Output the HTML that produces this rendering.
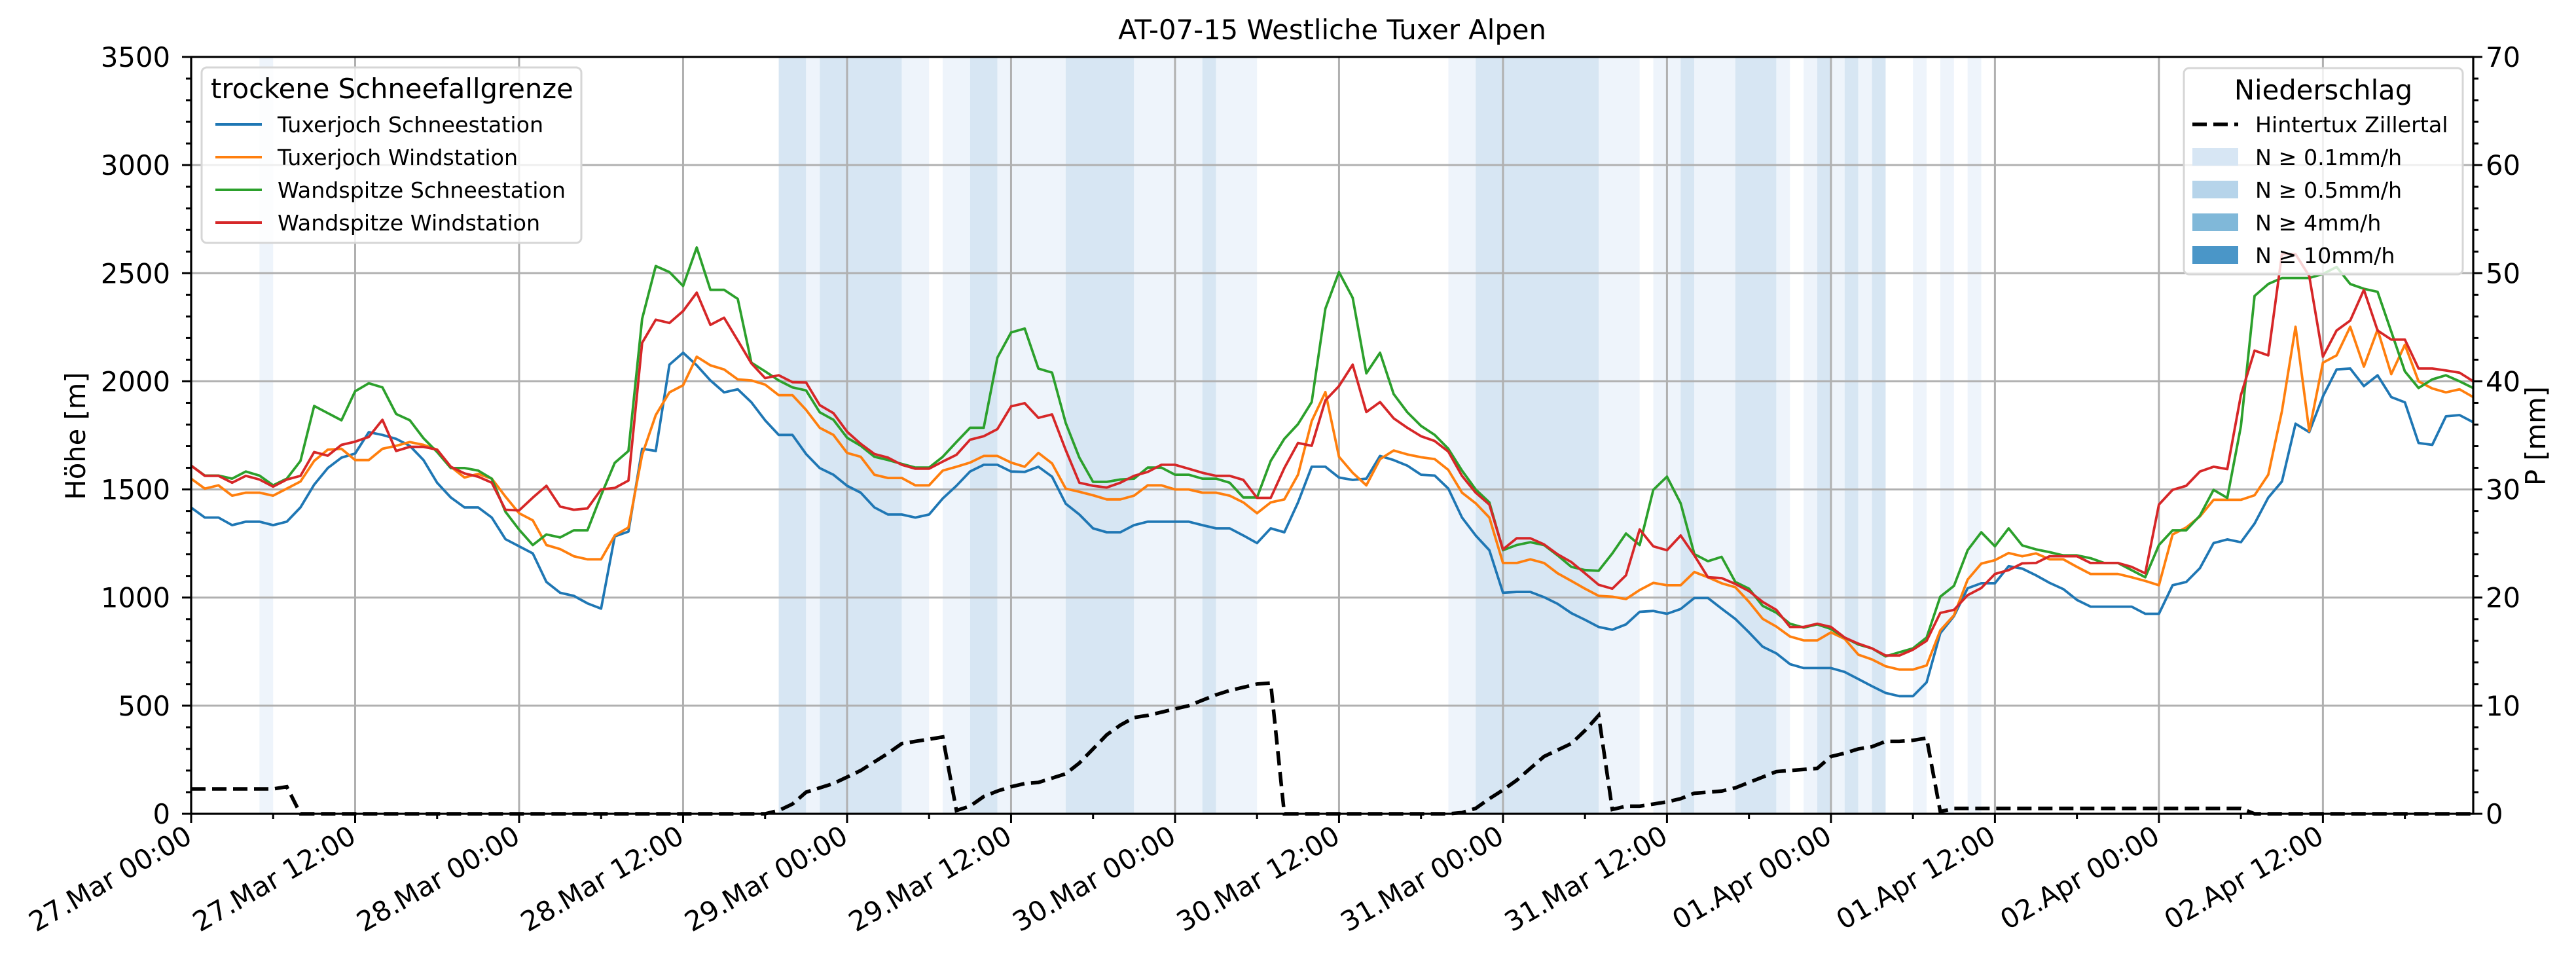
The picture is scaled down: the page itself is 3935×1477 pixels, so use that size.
<!DOCTYPE html>
<html><head><meta charset="utf-8"><style>
html,body{margin:0;padding:0;background:#fff;}
svg{display:block;font-family:"DejaVu Sans","Liberation Sans",sans-serif;}
</style></head><body>
<svg id="chart" width="3935" height="1477" viewBox="0 0 3935 1477" xmlns="http://www.w3.org/2000/svg">
<rect x="0" y="0" width="3935" height="1477" fill="#fff"/>
<g id="bands"></g><g id="grid"></g><g id="series"></g><g id="axes"></g><g id="legends"></g>
</svg>
<script>
const startLabels = ["27.Mar 00:00","27.Mar 12:00","28.Mar 00:00","28.Mar 12:00","29.Mar 00:00","29.Mar 12:00","30.Mar 00:00","30.Mar 12:00","31.Mar 00:00","31.Mar 12:00","01.Apr 00:00","01.Apr 12:00","02.Apr 00:00","02.Apr 12:00"];
const hoursCount = 168;
const yTicksLeft = [0,500,1000,1500,2000,2500,3000,3500];
const yTicksRight = [0,10,20,30,40,50,60,70];
const tuxerSchnee = [1416,1370,1370,1335,1351,1351,1335,1351,1417,1522,1599,1647,1666,1765,1752,1734,1702,1636,1531,1463,1417,1417,1370,1270,1237,1204,1072,1022,1008,973,949,1283,1305,1688,1678,2077,2132,2074,2004,1949,1963,1903,1820,1752,
1752,1664,1599,1568,1517,1485,1417,1384,1384,1370,1384,1458,1517,1583,1614,1614,1583,1581,1605,1559,1434,1384,1320,1302,1302,1335,1351,1351,1351,1351,1335,1320,1320,1287,1252,1320,1302,1440,1605,1605,1555,1544,
1550,1655,1636,1610,1568,1564,1504,1370,1287,1219,1022,1026,1026,1002,971,928,897,864,851,876,934,938,925,947,998,998,949,901,839,773,742,692,674,674,674,656,623,590,559,544,544,608,
835,914,1043,1066,1066,1145,1134,1103,1068,1039,989,958,958,958,958,925,925,1057,1072,1136,1252,1269,1256,1342,1462,1537,1804,1765,1930,2055,2059,1978,2028,1927,1903,1715,1706,1838,1844,1811];
const tuxerWind = [1550,1504,1519,1471,1485,1485,1471,1504,1537,1632,1684,1688,1636,1636,1688,1702,1719,1706,1684,1605,1555,1572,1550,1467,1390,1357,1243,1224,1191,1177,1177,1287,1324,1660,1844,1949,1982,2114,2074,2055,2009,2004,1985,1936,
1936,1868,1785,1752,1669,1651,1568,1553,1553,1519,1519,1587,1605,1624,1655,1655,1624,1605,1669,1620,1504,1489,1473,1454,1454,1471,1519,1519,1500,1500,1485,1485,1471,1440,1390,1440,1454,1568,1816,1950,1651,1577,
1519,1640,1680,1662,1649,1640,1590,1485,1436,1370,1160,1160,1177,1160,1112,1077,1041,1008,1004,993,1035,1068,1057,1057,1118,1094,1066,1048,980,902,866,820,802,802,839,809,736,714,682,667,667,686,
848,918,1083,1157,1173,1206,1191,1204,1177,1177,1142,1109,1109,1109,1094,1077,1057,1292,1324,1375,1452,1452,1452,1473,1568,1862,2252,1770,2086,2120,2252,2068,2239,2033,2169,2000,1967,1949,1963,1927];
const wandSchnee = [1610,1564,1564,1550,1583,1564,1519,1550,1632,1886,1853,1820,1954,1991,1972,1849,1820,1737,1673,1599,1599,1587,1550,1397,1314,1243,1292,1278,1311,1311,1473,1623,1678,2289,2533,2505,2441,2619,2423,2423,2381,2086,2046,2004,
1972,1958,1857,1822,1739,1702,1651,1636,1618,1601,1601,1651,1719,1785,1785,2110,2226,2244,2059,2040,1807,1647,1535,1535,1546,1550,1601,1601,1568,1568,1550,1550,1531,1463,1463,1632,1734,1802,1904,2336,2505,2386,
2037,2132,1941,1857,1794,1752,1688,1587,1500,1440,1219,1243,1256,1243,1195,1142,1127,1124,1204,1296,1243,1498,1559,1436,1201,1168,1188,1072,1041,962,930,879,861,876,855,815,783,765,728,747,765,815,
1004,1054,1219,1302,1237,1320,1241,1223,1210,1195,1195,1182,1160,1160,1127,1094,1243,1311,1311,1379,1498,1461,1792,2395,2450,2478,2478,2478,2496,2529,2450,2428,2414,2230,2046,1969,2009,2028,2000,1969];
const wandWind = [1610,1563,1563,1531,1563,1546,1513,1546,1563,1673,1656,1706,1721,1743,1822,1678,1697,1697,1684,1605,1574,1559,1531,1406,1403,1462,1517,1421,1406,1412,1500,1507,1541,2178,2285,2270,2325,2410,2261,2294,2189,2083,2015,2028,
1996,1995,1890,1853,1767,1711,1664,1647,1614,1596,1596,1629,1660,1730,1746,1779,1884,1899,1831,1847,1682,1531,1517,1509,1531,1563,1581,1614,1614,1596,1577,1563,1563,1544,1461,1461,1599,1715,1702,1912,1978,2077,
1858,1904,1829,1785,1746,1724,1675,1563,1485,1430,1223,1274,1274,1246,1200,1164,1112,1059,1041,1103,1315,1237,1219,1287,1195,1094,1090,1063,1030,980,943,864,864,879,864,815,787,765,732,732,759,800,
929,943,1011,1044,1109,1127,1158,1160,1191,1191,1191,1160,1160,1160,1142,1112,1430,1498,1517,1583,1605,1594,1936,2142,2120,2588,2588,2487,2114,2235,2281,2423,2235,2193,2193,2059,2059,2050,2040,2000];
const precip = [2.3,2.3,2.3,2.3,2.3,2.3,2.3,2.5,
0,0,0,0,0,0,0,0,0,0,0,0,0,0,0,0,0,0,0,0,0,0,0,0,0,0,0,0,0,0,0,0,0,0,0,
0.3,0.9,2.0,2.4,2.8,3.4,4.0,4.8,5.6,6.5,6.7,6.9,7.1,
0.3,0.7,1.6,2.1,2.5,2.8,2.9,3.3,3.7,4.7,6.0,7.3,8.2,8.9,9.1,9.4,9.7,10.0,10.5,11.0,11.4,11.7,12.0,12.1,
0,0,0,0,0,0,0,0,0,0,0,0,0,
0.1,0.5,1.4,2.2,3.1,4.2,5.3,5.9,6.5,7.7,9.1,
0.4,0.7,0.7,0.9,1.1,1.4,1.9,2.0,2.1,2.4,2.9,3.4,3.9,4.0,4.1,4.2,5.3,5.6,6.0,6.2,6.7,6.7,6.8,7.0,
0.2,0.5,0.5,0.5,0.5,0.5,0.5,0.5,0.5,0.5,0.5,0.5,0.5,0.5,0.5,0.5,0.5,0.5,0.5,0.5,0.5,0.5,0.5,
0,0,0,0,0,0,0,0,0,0,0,0,0,0,0,0,0];
const bandStarts = [5,43,45,46,52,55,57,59,64,69,74,75,92,94,103,107,109,110,113,116,118,119,120,121,122,123,126,128,130];
const bandEnds   = [6,45,46,52,54,57,59,64,69,74,75,78,94,103,106,109,110,113,116,117,119,120,121,122,123,124,127,129,131];
const bandLevels = [1,2,1,2,1,1,2,1,2,1,2,1,1,2,1,1,2,1,2,1,1,2,1,2,1,2,1,1,1];

const NS="http://www.w3.org/2000/svg";
const L=292,R=3778,T=87,B=1243;
const xS=h=>L+h*(R-L)/(hoursCount-1);
const yL=v=>B-v*(B-T)/3500;
const yR=v=>B-v*(B-T)/70;
function mk(tag,attrs,parent,text){const e=document.createElementNS(NS,tag);for(const k in attrs)e.setAttribute(k,attrs[k]);if(text!==undefined)e.textContent=text;parent.appendChild(e);return e;}
const gB=document.getElementById('bands'),gG=document.getElementById('grid'),gS=document.getElementById('series'),gA=document.getElementById('axes'),gL=document.getElementById('legends');
const bandColors={1:'#eef4fb',2:'#d7e6f3'};
bandStarts.forEach((s,i)=>{const r=mk('rect',{x:xS(s),y:T,width:xS(bandEnds[i])-xS(s),height:B-T,fill:bandColors[bandLevels[i]]},gB);

});
// grid
yTicksLeft.forEach(v=>{const l=mk('line',{x1:L,x2:R,y1:yL(v),y2:yL(v),stroke:'#b0b0b0','stroke-width':3},gG);

});
startLabels.forEach((lab,i)=>{const x=xS(i*12);const l=mk('line',{x1:x,x2:x,y1:T,y2:B,stroke:'#b0b0b0','stroke-width':3},gG);

});
// series
const seriesList=[[tuxerSchnee,'#1f77b4','tuxerjoch-schneestation-line'],[tuxerWind,'#ff7f0e','tuxerjoch-windstation-line'],[wandSchnee,'#2ca02c','wandspitze-schneestation-line'],[wandWind,'#d62728','wandspitze-windstation-line']];
seriesList.forEach(([d,c,n])=>{const pts=d.map((v,i)=>xS(i).toFixed(1)+','+yL(v).toFixed(1)).join(' ');
const p=mk('polyline',{points:pts,fill:'none',stroke:c,'stroke-width':3.8,'stroke-linejoin':'round'},gS);

});
const pp=mk('polyline',{points:precip.map((v,i)=>xS(i).toFixed(1)+','+yR(v).toFixed(1)).join(' '),fill:'none',stroke:'#000','stroke-width':5.5,'stroke-dasharray':'22,10'},gS);


// spines
const sp=mk('rect',{x:L,y:T,width:R-L,height:B-T,fill:'none',stroke:'#000','stroke-width':3.2},gA);


// left ticks
for(let v=0;v<=3500;v+=100){const maj=v%500===0;mk('line',{x1:L-(maj?14:8),x2:L,y1:yL(v),y2:yL(v),stroke:'#000','stroke-width':3},gA);}
yTicksLeft.forEach(v=>{const t=mk('text',{x:260,y:yL(v)+15,'font-size':41.7,'text-anchor':'end',fill:'#000'},gA,String(v));

});
for(let v=0;v<=70;v+=2){const maj=v%10===0;mk('line',{x1:R,x2:R+(maj?14:8),y1:yR(v),y2:yR(v),stroke:'#000','stroke-width':3},gA);}
yTicksRight.forEach(v=>{const t=mk('text',{x:3797,y:yR(v)+15,'font-size':41.7,'text-anchor':'start',fill:'#000'},gA,String(v));

});
for(let h=0;h<hoursCount;h+=6){const maj=h%12===0;mk('line',{x1:xS(h),x2:xS(h),y1:B,y2:B+(maj?14:8),stroke:'#000','stroke-width':3},gA);}
startLabels.forEach((lab,i)=>{const x=xS(i*12);const t=mk('text',{x:x+4,y:1285,'font-size':41.7,'text-anchor':'end',fill:'#000',transform:`rotate(-30 ${x+4} 1285)`},gA,lab);

});
const tt=mk('text',{x:2035,y:60,'font-size':41.7,'text-anchor':'middle',fill:'#000'},gA,'AT-07-15 Westliche Tuxer Alpen');


const yl=mk('text',{x:130,y:666,'font-size':41.7,'text-anchor':'middle',fill:'#000',transform:'rotate(-90 130 666)'},gA,'Höhe [m]');


const yr=mk('text',{x:3888,y:666,'font-size':41.7,'text-anchor':'middle',fill:'#000',transform:'rotate(-90 3888 666)'},gA,'P [mm]');


// legend 1
const lg1=mk('g',{},gL);


mk('rect',{x:308,y:103,width:580,height:268,rx:8,fill:'rgba(255,255,255,0.8)',stroke:'#d6d6d6','stroke-width':3},lg1);
mk('text',{x:322,y:150,'font-size':41.7,fill:'#000'},lg1,'trockene Schneefallgrenze');
const names1=['Tuxerjoch Schneestation','Tuxerjoch Windstation','Wandspitze Schneestation','Wandspitze Windstation'];
names1.forEach((n,i)=>{const y=190+i*50;mk('line',{x1:329,x2:400,y1:y,y2:y,stroke:seriesList[i][1],'stroke-width':4},lg1);
const t=mk('text',{x:424,y:y+12,'font-size':33.3,fill:'#000'},lg1,n);

});
// legend 2
const lg2=mk('g',{},gL);


mk('rect',{x:3336,y:104,width:426,height:315,rx:8,fill:'rgba(255,255,255,0.8)',stroke:'#d6d6d6','stroke-width':3},lg2);
mk('text',{x:3549,y:152,'font-size':41.7,'text-anchor':'middle',fill:'#000'},lg2,'Niederschlag');
mk('line',{x1:3349,x2:3419,y1:190,y2:190,stroke:'#000','stroke-width':5.5,'stroke-dasharray':'22,10'},lg2);
mk('text',{x:3445,y:202,'font-size':33.3,fill:'#000'},lg2,'Hintertux Zillertal');
const pl=['N ≥ 0.1mm/h','N ≥ 0.5mm/h','N ≥ 4mm/h','N ≥ 10mm/h'],pc=['#d7e6f4','#b6d4ea','#80b8d9','#4a96c8'];
pl.forEach((n,i)=>{const y=226+i*50;mk('rect',{x:3349,y:y,width:70,height:27,fill:pc[i]},lg2);
const t=mk('text',{x:3445,y:y+26,'font-size':33.3,fill:'#000'},lg2,n);

});
</script>
</body></html>
